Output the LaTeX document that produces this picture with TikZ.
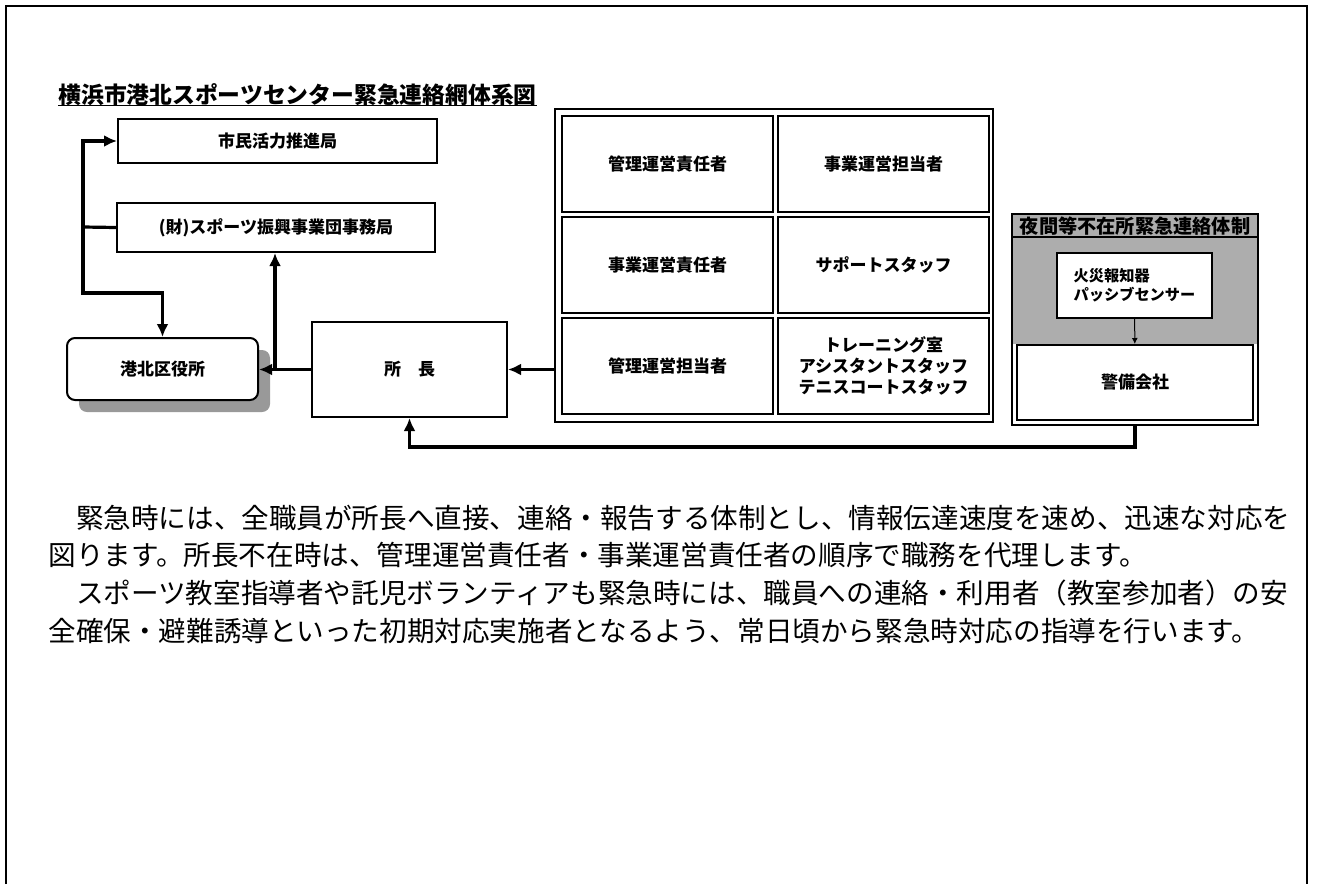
\documentclass[tikz,border=0pt]{standalone}
\usepackage{fontspec}
\newfontfamily\jp{Noto Sans CJK JP}
\usetikzlibrary{arrows.meta,shadows}

\tikzset{
  box/.style={draw,line width=1pt,fill=white,inner sep=0pt,
    font=\jp\bfseries\fontsize{8.5}{10.5}\selectfont},
  link/.style={line width=1.6pt,->},
  body/.style={anchor=base west,inner sep=0pt,font=\jp\fontsize{13.8}{16}\selectfont},
}

\begin{document}
\begin{tikzpicture}[x=0.5pt,y=-0.5pt,>={Latex[length=6.5pt,width=6pt]}]
\useasboundingbox (0,0) rectangle (1317,884);
\draw[line width=0.8pt] (6,884)--(6,6)--(1307,6)--(1307,884);

\node[anchor=base west,inner sep=0pt,font=\jp\bfseries\fontsize{11.4}{13}\selectfont] (title) at (58,103) {横浜市港北スポーツセンター緊急連絡網体系図};
\draw[line width=0.8pt] (title.south west)--(title.south east);

% left side
\node[box,minimum width=159.5pt,minimum height=22pt] (shimin) at (277.5,141) {市民活力推進局};
\node[box,minimum width=159pt,minimum height=24.5pt] (zaidan) at (276,227.5) {(財)スポーツ振興事業団事務局};
\node[box,rounded corners=4pt,minimum width=95.5pt,minimum height=31pt,
  drop shadow={shadow xshift=6pt,shadow yshift=-6pt,fill=black!40,opacity=1}] (kohoku) at (162.5,369) {港北区役所};
\node[box,minimum width=97.5pt,minimum height=47.5pt] (socho) at (409.5,369.5) {所　長};

% staff grid
\node[draw,line width=1pt,minimum width=219pt,minimum height=156.5pt] (staff) at (774,265.5) {};
\foreach \cell/\x/\y/\txt in {
  a/667.5/164/管理運営責任者, b/883.5/164/事業運営担当者,
  c/667.5/265/事業運営責任者, d/883.5/265/サポートスタッフ,
  e/667.5/365.5/管理運営担当者,
  f/883.5/365.5/{トレーニング室\\アシスタントスタッフ\\テニスコートスタッフ}}
  \node[box,align=center,minimum width=105.5pt,minimum height=48pt] (\cell) at (\x,\y) {\txt};

% night system
\node[minimum width=123pt,minimum height=105.5pt] (night) at (1135,319.5) {};
\node[box,minimum width=118pt,minimum height=37.5pt] (keibi) at (1135,382.5) {警備会社};
\fill[black!32] (night.north west) rectangle (night.east |- keibi.north);
\draw[line width=1pt] (night.north west) rectangle (night.south east);
\coordinate (band) at (0,237);
\draw[line width=0.8pt] (night.west |- band)--(night.east |- band);
\node[inner sep=0pt,font=\jp\bfseries\fontsize{9.6}{11}\selectfont] (nighttitle) at (1135,226) {夜間等不在所緊急連絡体制};
\node[box,align=left,minimum width=77.5pt,minimum height=32.5pt,font=\jp\bfseries\fontsize{7.6}{9.5}\selectfont] (alarm) at (1134.5,285.5) {火災報知器\\パッシブセンサー};
\draw[->,line width=0.5pt,>={Latex[length=3pt,width=3pt]}] (alarm)--(keibi);

% connectors
\coordinate (trunk) at (83,227);
\coordinate (bend) at (83,293);
\coordinate (fork) at (275,369.5);
\coordinate (loop) at (0,447);
\draw[link,-] (zaidan.west)--(trunk);
\draw[link] (trunk) |- (shimin.west);
\draw[link] (trunk)--(bend) -| (kohoku.north);
\draw[link] (socho.west)--(kohoku.east |- socho.west);
\draw[link] (fork)--(zaidan.south -| fork);
\draw[link] (staff.west |- socho.east)--(socho.east);
\draw[link] (night.south)--(night.south |- loop) -| (socho.south);

% text
\node[body] (p1) at (48,528) {　緊急時には、全職員が所長へ直接、連絡・報告する体制とし、情報伝達速度を速め、迅速な対応を};
\node[body] (p2) at (48,565) {図ります。所長不在時は、管理運営責任者・事業運営責任者の順序で職務を代理します。};
\node[body] (p3) at (48,603) {　スポーツ教室指導者や託児ボランティアも緊急時には、職員への連絡・利用者（教室参加者）の安};
\node[body] (p4) at (48,641) {全確保・避難誘導といった初期対応実施者となるよう、常日頃から緊急時対応の指導を行います。};
\end{tikzpicture}
\end{document}
